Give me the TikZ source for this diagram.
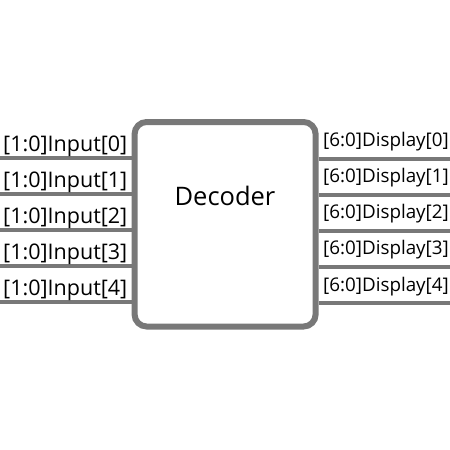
\documentclass[tikz,border=0pt]{standalone}
\usepackage{fontspec}
\setmainfont{Open Sans}
\usepackage{tikz}
\definecolor{wiregray}{RGB}{120,120,120}

\begin{document}
\begin{tikzpicture}[x=1pt, y=-1pt, wire/.style={draw=wiregray, line width=4pt},
    inlabel/.style={anchor=base east, font=\fontsize{21.5}{24}\selectfont, inner sep=0pt},
    outlabel/.style={anchor=base west, font=\fontsize{18.8}{22}\selectfont, inner sep=0pt}]
  \useasboundingbox (0,0) rectangle (450,450);
  \node[draw=wiregray, line width=6pt, rounded corners=12pt, fill=white, minimum width=181pt, minimum height=204.5pt, inner sep=0pt] (dec) at (225.1,224.25) {};
  \node[anchor=base, font=\fontsize{25.5}{28}\selectfont, inner sep=0pt] (title) at (225,205) {Decoder};
  % inputs
  \coordinate (i0) at (0,158);
  \coordinate (i1) at (0,194);
  \coordinate (i2) at (0,230);
  \coordinate (i3) at (0,266);
  \coordinate (i4) at (0,302);
  \draw[wire] (i0) -- (i0 -| dec.west);
  \draw[wire] (i1) -- (i1 -| dec.west);
  \draw[wire] (i2) -- (i2 -| dec.west);
  \draw[wire] (i3) -- (i3 -| dec.west);
  \draw[wire] (i4) -- (i4 -| dec.west);
  \node[inlabel] (in0) at (127.5,151) {[1:0]Input[0]};
  \node[inlabel] (in1) at (127.5,187) {[1:0]Input[1]};
  \node[inlabel] (in2) at (127.5,223) {[1:0]Input[2]};
  \node[inlabel] (in3) at (127.5,259) {[1:0]Input[3]};
  \node[inlabel] (in4) at (127.5,295) {[1:0]Input[4]};
  % outputs
  \coordinate (o0) at (450,159);
  \coordinate (o1) at (450,195);
  \coordinate (o2) at (450,231);
  \coordinate (o3) at (450,267);
  \coordinate (o4) at (450,303);
  \draw[wire] (dec.east |- o0) -- (o0);
  \draw[wire] (dec.east |- o1) -- (o1);
  \draw[wire] (dec.east |- o2) -- (o2);
  \draw[wire] (dec.east |- o3) -- (o3);
  \draw[wire] (dec.east |- o4) -- (o4);
  \node[outlabel] (out0) at (323,146) {[6:0]Display[0]};
  \node[outlabel] (out1) at (323,182.5) {[6:0]Display[1]};
  \node[outlabel] (out2) at (323,218) {[6:0]Display[2]};
  \node[outlabel] (out3) at (323,254.5) {[6:0]Display[3]};
  \node[outlabel] (out4) at (323,291) {[6:0]Display[4]};
\end{tikzpicture}
\end{document}
